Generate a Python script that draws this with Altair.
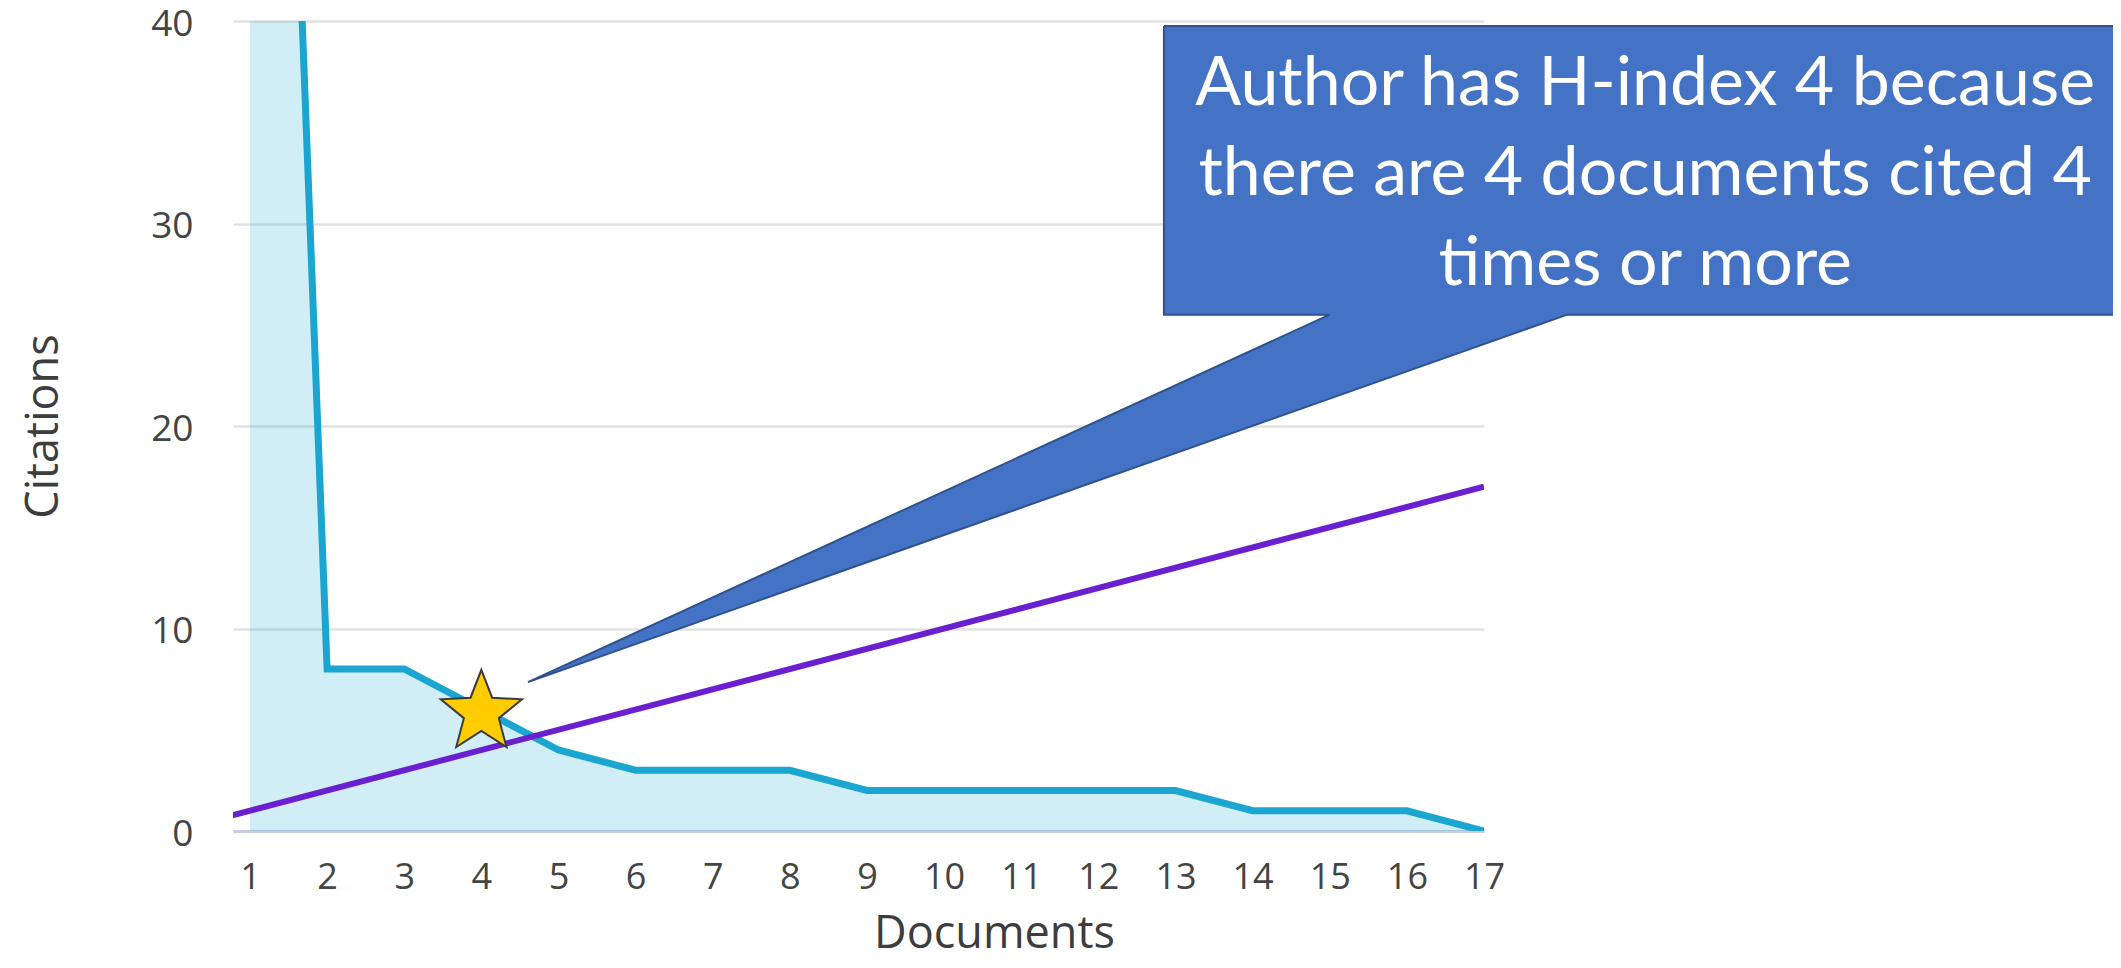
import math
import altair as alt
import pandas as pd

# ---- data ----
documents = list(range(1, 18))
citations = [107, 8, 8, 6, 4, 3, 3, 3, 2, 2, 2, 2, 2, 1, 1, 1, 0]

# reference line y = x (h-index diagonal)
diag_x = [0, 17]
diag_y = [0, 17]

# star marking the h-index point
star_x = [4]
star_y = [5.85]

# callout (speech bubble) outline in data units
callout_x = [12.85, 25.32, 25.32, 18.08, 4.604, 15.00, 12.85, 12.85]
callout_y = [39.75, 39.75, 25.5, 25.5, 7.35, 25.5, 25.5, 39.75]
callout_lines = ["Author has H-index 4 because",
                 "there are 4 documents cited 4",
                 "times or more"]
callout_text_x = 19.09
callout_text_y = [35.85, 31.4, 26.95]

# ---- tables ----
df_main = pd.DataFrame({"doc": documents, "cit": citations})
df_diag = pd.DataFrame({"doc": diag_x, "cit": diag_y})
df_star = pd.DataFrame({"doc": star_x, "cit": star_y})
df_call = pd.DataFrame({"doc": callout_x, "cit": callout_y,
                        "i": list(range(len(callout_x)))})
df_text = pd.DataFrame({"doc": [callout_text_x] * len(callout_lines),
                        "cit": callout_text_y, "t": callout_lines})

# unit star path (outer radius 1)
pts = []
for k in range(10):
    r = 1.0 if k % 2 == 0 else 0.43
    a = math.radians(-90 + 36 * k)
    pts.append(f"{r*math.cos(a):.4f},{r*math.sin(a):.4f}")
star_path = "M" + "L".join(pts) + "Z"

xs = alt.Scale(domain=[0.78, 17], nice=False, zero=False)
ys = alt.Scale(domain=[0, 40], nice=False)

FONT = "Open Sans"
x_axis = alt.Axis(values=documents, title="Documents", grid=False,
                  ticks=False, tickSize=0, labelPadding=57,
                  labelBaseline="alphabetic", labelFont=FONT,
                  labelFontSize=36, labelColor="#444444",
                  labelFlush=False, labelOverlap=False,
                  domainColor="#c9cde3", domainWidth=3,
                  titleFont=FONT, titleFontSize=45, titleFontWeight="normal",
                  titleColor="#3d3d3d", titleX=761, titleY=116,
                  titleBaseline="alphabetic", titleAlign="center")
y_axis = alt.Axis(values=[0, 10, 20, 30, 40], title="Citations", grid=True,
                  gridColor="#e2e2e2", gridWidth=2.5, domain=False,
                  ticks=False, tickSize=0, labelPadding=40, labelOffset=3,
                  labelFont=FONT, labelFontSize=37, labelColor="#444444",
                  labelFlush=False,
                  titleFont=FONT, titleFontSize=45, titleFontWeight="normal",
                  titleColor="#3d3d3d", titleX=-190, titleY=405,
                  titleAngle=-90, titleBaseline="middle", titleAlign="center")

X = alt.X("doc:Q", scale=xs, axis=x_axis)
Y = alt.Y("cit:Q", scale=ys, axis=y_axis)

area = alt.Chart(df_main).mark_area(color="#1aa6d0", opacity=0.2, clip=True).encode(x=X, y=Y)
line = alt.Chart(df_main).mark_line(color="#1aa6d0", strokeWidth=7, clip=True).encode(x=X, y=Y)
diag = alt.Chart(df_diag).mark_line(color="#6a1fd0", strokeWidth=6, clip=True).encode(x=X, y=Y)
star = alt.Chart(df_star).mark_point(shape=star_path, size=7300, filled=True,
                                     fill="#ffcc00", stroke="#3a3a3a",
                                     strokeWidth=2, opacity=1).encode(x=X, y=Y)
bubble = alt.Chart(df_call).mark_line(fill="#4472c4", stroke="#2f528f",
                                      strokeWidth=2, clip=False).encode(
    x=X, y=Y, order=alt.Order("i:Q"))
text = alt.Chart(df_text).mark_text(font="Lato", fontSize=68, color="white",
                                    align="center", baseline="alphabetic").encode(
    x=X, y=Y, text="t:N")

chart = alt.layer(area, line, diag, star, bubble, text).properties(
    width=1251, height=810,
    padding={"left": 225, "top": 13, "right": 629, "bottom": 129},
    autosize=alt.AutoSizeParams(type="none"),
).configure_view(stroke=None)

chart.save("out.html", embed_options={"renderer": "svg", "actions": False})
